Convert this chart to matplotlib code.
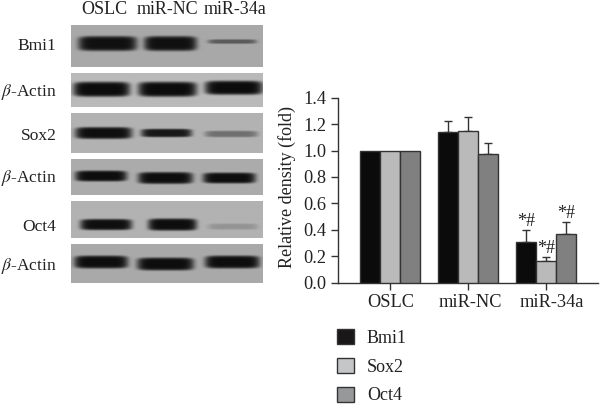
import numpy as np
import matplotlib
matplotlib.use("Agg")
import matplotlib.pyplot as plt
from matplotlib.patches import Patch
from matplotlib.transforms import ScaledTranslation

plt.rcParams['font.family'] = ['Liberation Serif', 'DejaVu Serif']
plt.rcParams['mathtext.fontset'] = 'stix'

groups = ['OSLC', 'miR-NC', 'miR-34a']
series = ['Bmi1', 'Sox2', 'Oct4']
bmi1 = [1.0, 1.14, 0.31]
sox2 = [1.0, 1.15, 0.16]
oct4 = [1.0, 0.97, 0.37]
bmi1_err = [0, 0.085, 0.085]
sox2_err = [0, 0.105, 0.03]
oct4_err = [0, 0.085, 0.085]
colors = ['#0b0b0b', '#bababa', '#808080']
y_ticks = [0.0, 0.2, 0.4, 0.6, 0.8, 1.0, 1.2, 1.4]
signif = '*#'
blot_labels = ['Bmi1', r'$\beta$-Actin', 'Sox2', r'$\beta$-Actin', 'Oct4', r'$\beta$-Actin']

W, H = 600, 408
fig = plt.figure(figsize=(W / 100, H / 100), dpi=100, facecolor='white')

def pax(x0, y0, x1, y1):
    return fig.add_axes([x0 / W, 1 - y1 / H, (x1 - x0) / W, (y1 - y0) / H])

# Western blot panels (pixel box, background grey, bands: x0, x1, yc, height, darkness)
panels = [
    ((71, 24.5, 263, 67.5), 168, [(78, 137, 44, 15, 0.97), (144, 197, 44, 15, 0.97), (208, 257, 42, 4.5, 0.5)]),
    ((71, 73, 263, 107.5), 186, [(73, 130, 90, 15, 1.0), (138, 197, 90, 15, 1.0), (205, 263, 88.5, 14, 1.0)]),
    ((71, 113, 263, 153), 178, [(75, 132, 133, 12, 0.98), (141, 192, 133, 8.5, 0.93), (205, 258, 134, 6.5, 0.4)]),
    ((71, 159, 263, 195), 172, [(75, 127, 176, 11, 0.99), (138, 193, 178, 12, 0.99), (203, 256, 178, 11, 0.99)]),
    ((71, 201, 263, 238), 178, [(80, 132, 225, 11, 0.98), (148, 197, 225, 12, 0.99), (208, 258, 227, 6, 0.18)]),
    ((71, 244, 263, 283), 170, [(74, 128, 262, 13, 0.99), (137, 194, 264, 13, 0.99), (205, 260, 262, 13, 0.99)]),
]
label_y = [46.5, 92.5, 136.5, 178, 227, 265.5]

for (box, bg, bands), lab, ly in zip(panels, blot_labels, label_y):
    x0, y0, x1, y1 = box
    xs = np.linspace(x0, x1, int((x1 - x0) * 2))
    ys = np.linspace(y0, y1, int((y1 - y0) * 2))
    X, Y = np.meshgrid(xs, ys)
    shade = np.ones_like(X)
    for bx0, bx1, yc, h, d in bands:
        xc, hw, hh = (bx0 + bx1) / 2, (bx1 - bx0) / 2, h / 2
        r = np.abs((X - xc) / hw) ** 6 + np.abs((Y - yc) / hh) ** 4.5
        shade *= 1 - d * np.exp(-r ** 1.5)
    img = 12 + (bg - 12) * shade
    a = pax(x0, y0, x1, y1)
    a.imshow(img, cmap='gray', vmin=0, vmax=255, aspect='auto', interpolation='bilinear')
    a.axis('off')
    fig.text(56.5 / W, 1 - ly / H, lab, ha='right', va='center', fontsize=12.5, color='#222222')

for g, x in zip(groups, [104.5, 167.5, 235]):
    fig.text(x / W, 1 - 10 / H, g, ha='center', va='center', fontsize=13, color='#222222')

# Bar chart
ax = pax(337.5, 97.7, 598, 282.5)
step = 78.4
ax.set_xlim(-(389.5 - 337.5) / step, (598 - 389.5) / step)
ax.set_ylim(0, 1.4)
centers = np.arange(len(groups), dtype=float)
bw = 20 / step
dark = '#333333'
values = [bmi1, sox2, oct4]
errs = [bmi1_err, sox2_err, oct4_err]
for i, (vals, err, c) in enumerate(zip(values, errs, colors)):
    xpos = centers + (i - 1) * bw
    ax.bar(xpos, vals, bw, color=c, edgecolor=dark, linewidth=1.0, zorder=3)
    idx = [j for j, e in enumerate(err) if e > 0]
    ax.errorbar(xpos[idx], np.array(vals)[idx], yerr=[np.zeros(len(idx)), np.array(err)[idx]],
                fmt='none', ecolor=dark, elinewidth=1.0, capsize=3.2, capthick=1.0, zorder=2)
    ax.text(xpos[2], vals[2] + err[2] + 0.005, signif, ha='center', va='bottom',
            fontsize=13, color='#222222', zorder=4)

for s in ('top', 'right'):
    ax.spines[s].set_visible(False)
for s in ('left', 'bottom'):
    ax.spines[s].set_linewidth(1.0)
    ax.spines[s].set_color(dark)
ax.set_xticks(centers)
ax.set_xticklabels(groups)
ax.set_yticks(y_ticks)
ax.set_yticklabels([f'{v:.1f}' for v in y_ticks])
ax.tick_params(axis='both', length=5, width=1.0, color=dark, labelsize=13.2, labelcolor='#222222', pad=3)
for lab, dx in zip(ax.get_xticklabels(), [1, 2.5, 5]):
    lab.set_transform(lab.get_transform() + ScaledTranslation(dx / 100, 0, fig.dpi_scale_trans))
ax.set_ylabel('Relative density (fold)', fontsize=13, color='#222222')
ax.yaxis.set_label_coords((296 - 337.5) / (598 - 337.5), (282.5 - 187) / 184.8)
ax.patch.set_alpha(0)

handles = [Patch(facecolor=c, edgecolor=dark, linewidth=1.0) for c in ['#1a1718', '#c4c6c8', '#97989a']]
fig.legend(handles, series, loc='upper left', bbox_to_anchor=(337 / W, 1 - 329 / H), borderaxespad=0, borderpad=0,
           frameon=False, fontsize=13, handlelength=0.94, handleheight=0.94, handletextpad=0.72, labelspacing=0.6,
           labelcolor='#222222')

fig.savefig('out.png', dpi=100, facecolor='white')
